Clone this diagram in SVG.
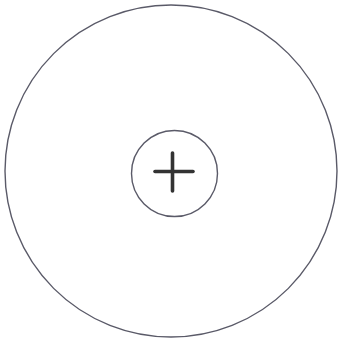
<svg xmlns="http://www.w3.org/2000/svg" width="340" height="342" viewBox="0 0 340 342">
<style>
.c{fill:none;stroke:#5a5a68;stroke-width:1.4}
.p{stroke:#333;stroke-width:3.6;stroke-linecap:round}
</style>
<rect width="340" height="342" fill="#fff"/>
<g id="outer"><circle class="c" cx="171" cy="171" r="166"/></g>
<g id="inner">
<circle class="c" cx="174.5" cy="173.5" r="43"/>
<line class="p" x1="155" y1="171.5" x2="193" y2="171.5"/>
<line class="p" x1="172.5" y1="153" x2="172.5" y2="191"/>
</g>
</svg>
